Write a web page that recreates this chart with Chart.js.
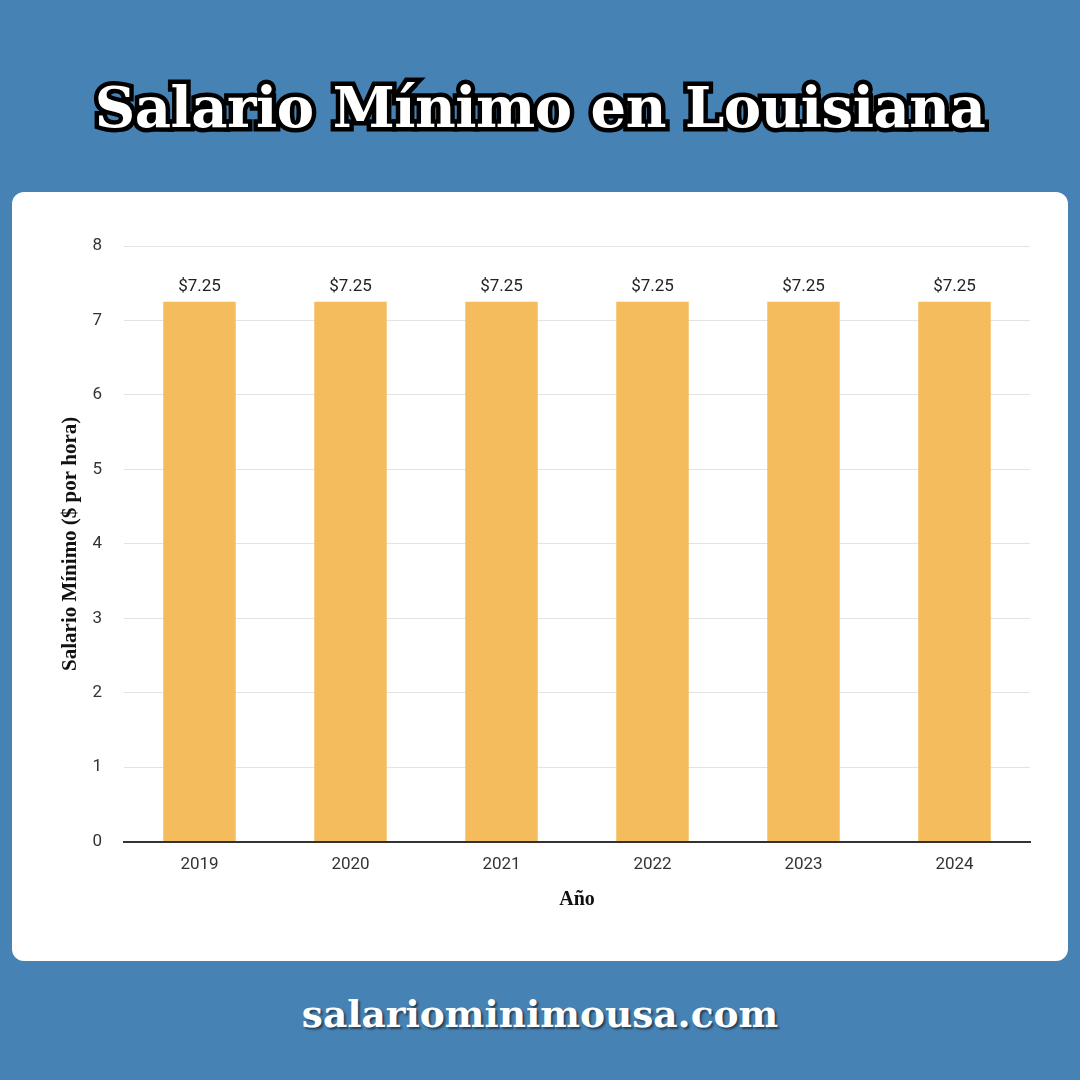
<!DOCTYPE html>
<html>
<head>
<meta charset="utf-8">
<script src="https://cdn.jsdelivr.net/npm/chart.js@4"></script>
<style>
  html, body { margin: 0; padding: 0; }
  body { width: 1080px; height: 1080px; background: #4682B4; position: relative; overflow: hidden; }
  #titulo {
    position: absolute; left: 0; top: 74px; width: 1080px; text-align: center;
    font-family: "DejaVu Serif", serif; font-weight: bold; font-size: 56px; color: #fff;
    letter-spacing: -0.5px;
    -webkit-text-stroke: 9px #000; paint-order: stroke fill;
    text-shadow: 3px 4px 0 #000;
  }
  #tarjeta {
    position: absolute; left: 12px; top: 192px; width: 1056px; height: 769px;
    background: #fff; border-radius: 12px;
  }
  #pie {
    position: absolute; left: 0; top: 992px; width: 1080px; text-align: center;
    font-family: "DejaVu Serif", serif; font-weight: bold; font-size: 37.5px; color: #fff;
    text-shadow: 2px 2px 2px rgba(0,0,0,0.5);
  }
</style>
</head>
<body>
<div id="titulo">Salario Mínimo en Louisiana</div>
<div id="tarjeta"><canvas id="salarioChart" width="1056" height="769"></canvas></div>
<div id="pie">salariominimousa.com</div>
<script>
const anios = ["2019", "2020", "2021", "2022", "2023", "2024"];
const salarios = [7.25, 7.25, 7.25, 7.25, 7.25, 7.25];

// etiquetas encima de cada barra
const etiquetasBarras = {
    id: "etiquetasBarras",
    afterDatasetsDraw(chart) {
        const ctx = chart.ctx;
        const meta = chart.getDatasetMeta(0);
        ctx.save();
        ctx.font = "17px Roboto";
        ctx.fillStyle = "#222";
        ctx.textAlign = "center";
        ctx.textBaseline = "bottom";
        meta.data.forEach((barra, i) => {
            ctx.fillText("$" + salarios[i].toFixed(2), barra.x, barra.y - 7);
        });
        ctx.restore();
    }
};

const canvas = document.getElementById("salarioChart");
new Chart(canvas, {
    type: "bar",
    data: {
        labels: anios,
        datasets: [{
            label: "Salario Mínimo",
            data: salarios,
            backgroundColor: "#F5BC5E",
            categoryPercentage: 1,
            barPercentage: 0.48
        }]
    },
    options: {
        responsive: false,
        animation: false,
        layout: { padding: { top: 54, right: 38, bottom: 52, left: 0 } },
        plugins: {
            legend: { display: false },
            tooltip: { enabled: false }
        },
        scales: {
            x: {
                grid: { display: false, drawTicks: false },
                border: { color: "#333", width: 2 },
                ticks: { color: "#333", font: { family: "Roboto", size: 17 }, padding: 13 },
                title: {
                    display: true, text: "Año", color: "#111",
                    font: { family: "Liberation Serif", weight: "bold", size: 20 },
                    padding: { top: 0, bottom: -3 }
                }
            },
            y: {
                min: 0, max: 8,
                afterFit(scale) { scale.width = 112; },
                grid: { color: "#e3e3e3", drawTicks: false },
                border: { display: false },
                ticks: { stepSize: 1, color: "#333", font: { family: "Roboto", size: 17 }, padding: 22 },
                title: {
                    display: true, text: "Salario Mínimo ($ por hora)", color: "#111",
                    font: { family: "Liberation Serif", weight: "bold", size: 21 },
                    padding: { top: 46, bottom: 0 }
                }
            }
        }
    },
    plugins: [etiquetasBarras]
});
</script>
</body>
</html>
